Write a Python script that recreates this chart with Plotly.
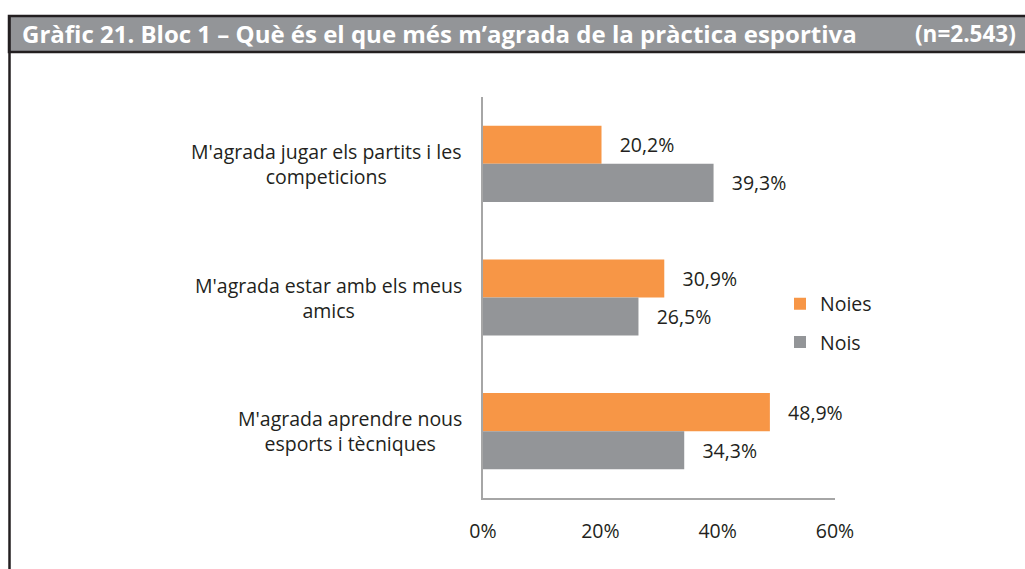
import plotly.graph_objects as go

# ---- data ----
categories = [
    "M'agrada jugar els partits i les<br>competicions",
    "M'agrada estar amb els meus<br>amics",
    "M'agrada aprendre nous<br>esports i tècniques",
]
noies = [20.2, 30.9, 48.9]
nois = [39.3, 26.5, 34.3]
series_names = ["Noies", "Nois"]
x_ticks = [0, 20, 40, 60]
x_tick_labels = ["0%", "20%", "40%", "60%"]
title_text = "Gràfic 21. Bloc 1 – Què és el que més m’agrada de la pràctica esportiva"
n_text = "(n=2.543)"

# ---- layout geometry (pixels) ----
W, H = 1025, 569
L, R, T, B = 483, 835, 97, 498


def px_x(px):
    return (px - L) / (R - L)


def px_y(py):
    return (B - py) / (B - T)


ORANGE = "#F79646"
GRAY = "#939598"
TXT = "#231F20"
FONT = "Open Sans"
LBL = 19.5
nb = "\u00a0" * 3

fig = go.Figure()
fig.add_trace(go.Bar(
    y=categories, x=noies, name=series_names[0], orientation="h",
    marker=dict(color=ORANGE, line=dict(width=0)),
    texttemplate=nb + "%{x:.1f}%", textposition="outside",
    textfont=dict(family=FONT, size=LBL, color=TXT),
    cliponaxis=False, legendgroup="a", hoverinfo="skip",
))
fig.add_trace(go.Bar(
    y=categories, x=nois, name=series_names[1], orientation="h",
    marker=dict(color=GRAY, line=dict(width=0)),
    texttemplate=nb + "%{x:.1f}%", textposition="outside",
    textfont=dict(family=FONT, size=LBL, color=TXT),
    cliponaxis=False, legendgroup="b", hoverinfo="skip",
))

annotations = []
for c in categories:
    annotations.append(dict(
        xref="paper", yref="y", x=px_x(464), y=c, text=c,
        xanchor="right", yanchor="middle", align="center", showarrow=False,
        font=dict(family=FONT, size=LBL, color=TXT),
    ))
annotations.append(dict(
    xref="paper", yref="paper", x=px_x(20), y=px_y(34), text="<b>" + title_text + "</b>",
    xanchor="left", yanchor="middle", showarrow=False,
    font=dict(family=FONT, size=24, color="white"),
))
annotations.append(dict(
    xref="paper", yref="paper", x=px_x(1018), y=px_y(34), text="<b>" + n_text + "</b>",
    xanchor="right", yanchor="middle", showarrow=False,
    font=dict(family=FONT, size=22.5, color="white"),
))

shapes = [
    dict(type="rect", xref="paper", yref="paper",
         x0=px_x(9), x1=px_x(1040), y0=px_y(16), y1=px_y(52),
         fillcolor=GRAY, line=dict(color="#231F20", width=2.5), layer="below"),
    dict(type="line", xref="paper", yref="paper",
         x0=px_x(9.5), x1=px_x(9.5), y0=px_y(16), y1=px_y(580),
         line=dict(color="#231F20", width=2.5)),
]

fig.update_layout(
    width=W, height=H,
    margin=dict(l=L, r=W - R, t=T, b=H - B),
    paper_bgcolor="white", plot_bgcolor="white",
    separators=",.",
    barmode="group", bargap=0.43, bargroupgap=0,
    font=dict(family=FONT, size=LBL, color=TXT),
    xaxis=dict(
        range=[0, 60], tickvals=x_ticks, ticktext=x_tick_labels,
        showgrid=False, zeroline=False, showline=True, linecolor="#A6A6A6", linewidth=1.5,
        ticks="", ticklabelstandoff=15, tickfont=dict(family=FONT, size=LBL, color=TXT),
        fixedrange=True,
    ),
    yaxis=dict(
        autorange="reversed", showticklabels=False, showgrid=False, zeroline=False,
        showline=True, linecolor="#A6A6A6", linewidth=1.5, ticks="", fixedrange=True,
    ),
    legend=dict(
        x=px_x(780), y=px_y(323), xanchor="left", yanchor="middle",
        font=dict(family=FONT, size=LBL, color=TXT), tracegroupgap=10,
        bgcolor="rgba(0,0,0,0)",
    ),
    annotations=annotations,
    shapes=shapes,
    showlegend=True,
)

fig.write_html(
    "out.html",
    config={"displayModeBar": False},
    post_script="document.body.style.margin='0';document.body.style.padding='0';",
)
